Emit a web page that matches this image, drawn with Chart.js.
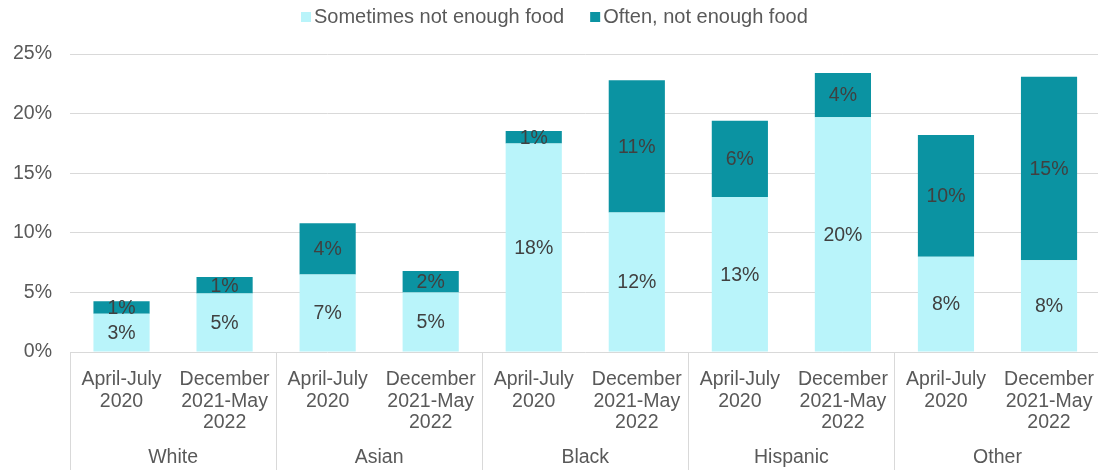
<!DOCTYPE html>
<html>
<head>
<meta charset="utf-8">
<script src="https://cdn.jsdelivr.net/npm/chart.js@4"></script>
<style>
  html, body { margin: 0; padding: 0; background: #fff; overflow: hidden; }
  #wrap { width: 1103px; height: 470px; }
</style>
</head>
<body>
<div id="wrap"><canvas id="foodChart"></canvas></div>
<script>
// periods under each group
var periodLabels = [
    ["April-July", "2020"],
    ["December", "2021-May", "2022"]
];
var groups = ["White", "Asian", "Black", "Hispanic", "Other"];

// share of adults, percent
var sometimesValues = [3.2, 4.9, 6.5, 5.0, 17.5, 11.7, 13.0, 19.7, 8.0, 7.7];
var oftenValues     = [1.05, 1.4, 4.3, 1.8, 1.05, 11.1, 6.4, 3.7, 10.2, 15.4];

var yTicks = [0, 5, 10, 15, 20, 25];

var labels = [];
for (let g = 0; g < groups.length; g++) {
    labels.push(periodLabels[0]);
    labels.push(periodLabels[1]);
}

var fontFamily = "'Liberation Sans', Arial, sans-serif";
var axisColor = "#595959";
var lineColor = "#d9d9d9";
var fontSize = 19.5;

// percent labels in the middle of each bar segment
var segmentLabels = {
    id: "segmentLabels",
    afterDatasetsDraw: function (chart) {
        let ctx = chart.ctx;
        ctx.save();
        ctx.font = fontSize + "px " + fontFamily;
        ctx.fillStyle = "#404040";
        ctx.textAlign = "center";
        ctx.textBaseline = "middle";
        chart.data.datasets.forEach(function (ds, i) {
            let meta = chart.getDatasetMeta(i);
            meta.data.forEach(function (bar, j) {
                let mid = (bar.y + bar.base) / 2;
                ctx.fillText(Math.round(ds.data[j]) + "%", bar.x, mid + 1);
            });
        });
        ctx.restore();
    }
};

// small square legend across the top
var topLegend = {
    id: "topLegend",
    afterDraw: function (chart) {
        let ctx = chart.ctx;
        ctx.save();
        ctx.font = "20px " + fontFamily;
        ctx.textBaseline = "middle";
        ctx.textAlign = "left";
        let x = 301;
        let y = 17;
        chart.data.datasets.forEach(function (ds) {
            ctx.fillStyle = ds.backgroundColor;
            ctx.fillRect(x, y - 5, 10, 10);
            ctx.fillStyle = axisColor;
            ctx.fillText(ds.label, x + 13, y);
            x += 13 + ctx.measureText(ds.label).width + 26;
        });
        ctx.restore();
    }
};

// race groups under the period labels, with divider lines
var groupAxis = {
    id: "groupAxis",
    afterDraw: function (chart) {
        let ctx = chart.ctx;
        let x = chart.scales.x;
        let area = chart.chartArea;
        let half = (x.getPixelForValue(1) - x.getPixelForValue(0)) / 2;
        ctx.save();
        ctx.strokeStyle = lineColor;
        ctx.lineWidth = 1;
        for (let g = 0; g <= groups.length; g++) {
            let px = Math.round(x.getPixelForValue(g * 2) - half) + 0.5;
            ctx.beginPath();
            ctx.moveTo(px, area.bottom);
            ctx.lineTo(px, chart.height);
            ctx.stroke();
        }
        ctx.font = fontSize + "px " + fontFamily;
        ctx.fillStyle = axisColor;
        ctx.textAlign = "center";
        ctx.textBaseline = "middle";
        groups.forEach(function (name, g) {
            let cx = (x.getPixelForValue(g * 2) + x.getPixelForValue(g * 2 + 1)) / 2;
            ctx.fillText(name, cx, 458);
        });
        ctx.restore();
    }
};

var chart = new Chart(document.getElementById("foodChart").getContext("2d"), {
    type: "bar",
    data: {
        labels: labels,
        datasets: [
            {
                label: "Sometimes not enough food",
                data: sometimesValues,
                backgroundColor: "#b9f4fa",
                categoryPercentage: 1,
                barPercentage: 0.545
            },
            {
                label: "Often, not enough food",
                data: oftenValues,
                backgroundColor: "#0b93a2",
                categoryPercentage: 1,
                barPercentage: 0.545
            }
        ]
    },
    options: {
        responsive: true,
        maintainAspectRatio: false,
        animation: false,
        layout: { padding: { top: 54, right: 0, left: 0, bottom: 0 } },
        plugins: {
            legend: { display: false },
            tooltip: { enabled: false }
        },
        scales: {
            x: {
                stacked: true,
                grid: { display: false },
                border: { display: false },
                ticks: {
                    color: axisColor,
                    padding: 9,
                    maxRotation: 0,
                    autoSkip: false,
                    font: { size: fontSize, family: fontFamily, lineHeight: 1.1 }
                },
                afterFit: function (scale) { scale.height = 118; }
            },
            y: {
                stacked: true,
                min: 0,
                max: 25,
                afterBuildTicks: function (scale) {
                    scale.ticks = yTicks.map(function (v) { return { value: v }; });
                },
                grid: { color: lineColor, drawTicks: false },
                border: { display: false },
                ticks: {
                    color: axisColor,
                    padding: 18,
                    font: { size: fontSize, family: fontFamily },
                    callback: function (v) { return v + "%"; }
                },
                afterFit: function (scale) { scale.width = 70; }
            }
        }
    },
    plugins: [segmentLabels, groupAxis, topLegend]
});
</script>
</body>
</html>
